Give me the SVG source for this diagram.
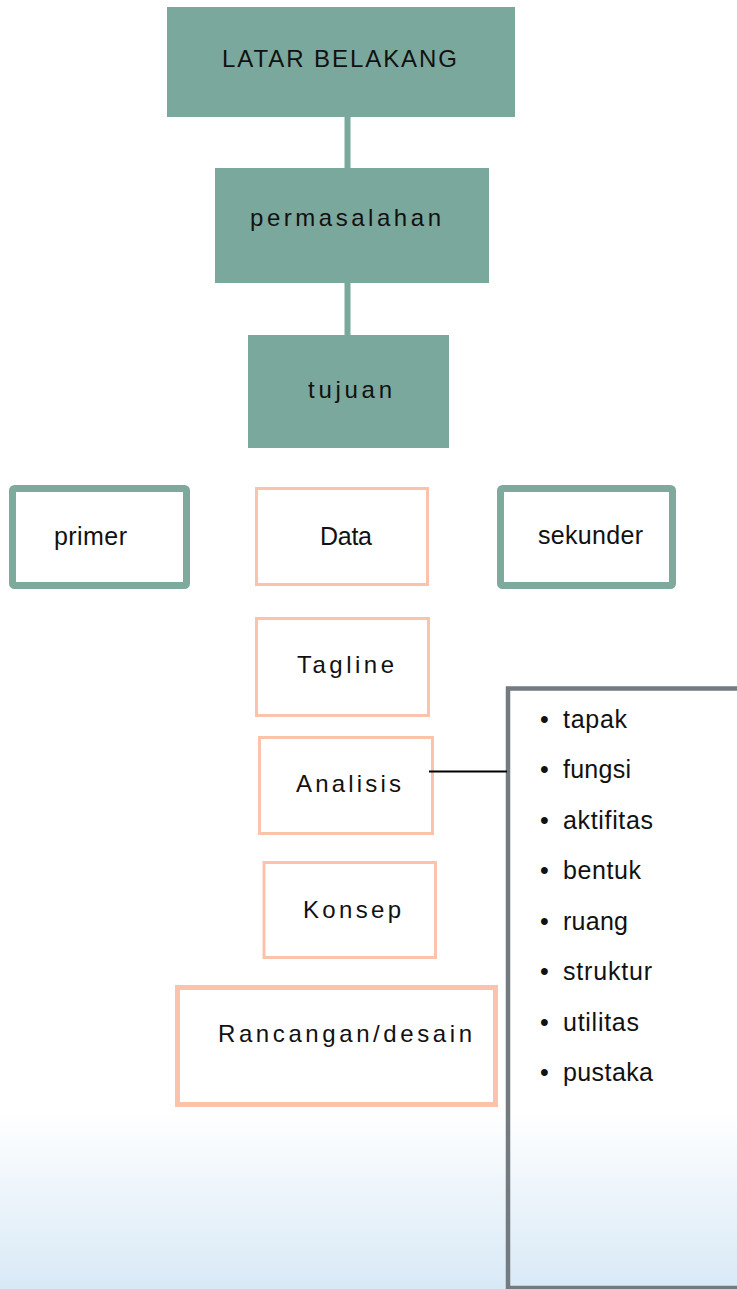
<svg xmlns="http://www.w3.org/2000/svg" width="737" height="1289" viewBox="0 0 737 1289">
<defs>
<linearGradient id="bg" x1="0" y1="0" x2="0" y2="1289" gradientUnits="userSpaceOnUse">
<stop offset="0" stop-color="#ffffff"/>
<stop offset="0.862" stop-color="#ffffff"/>
<stop offset="1" stop-color="#d8e9f6"/>
</linearGradient>
<style>
.solid{fill:#7ba89d;stroke:none}
.green{fill:#ffffff;stroke:#7ea99d;stroke-width:7}
.peach{fill:#ffffff;stroke:#fbc3aa;stroke-width:3}
.peach5{fill:#ffffff;stroke:#fbc3aa;stroke-width:5}
.list{fill:none;stroke:#737b80;stroke-width:4.5}
.sp{font-family:"Liberation Sans",Arial,sans-serif;font-size:24px;fill:#111111}
.pl{font-family:"Liberation Sans",Arial,sans-serif;font-size:25px;fill:#111111}
.conn{fill:#7ba89d}
</style>
</defs>
<rect x="0" y="0" width="737" height="1289" fill="url(#bg)"/>

<g id="latar-belakang">
<rect class="solid" x="167" y="7" width="348" height="110"/>
<text class="sp" x="222" y="67" textLength="235" lengthAdjust="spacing">LATAR BELAKANG</text>
</g>

<g id="permasalahan">
<rect class="solid" x="215" y="168" width="274" height="115"/>
<text class="sp" x="250" y="226" textLength="191" lengthAdjust="spacing">permasalahan</text>
</g>

<g id="tujuan">
<rect class="solid" x="248" y="335" width="201" height="113"/>
<text class="sp" x="308" y="398" textLength="84" lengthAdjust="spacing">tujuan</text>
</g>

<g id="primer">
<rect class="green" x="12.5" y="488.5" width="174" height="97" rx="2"/>
<text class="pl" x="54" y="545" textLength="73" lengthAdjust="spacing">primer</text>
</g>

<g id="data">
<rect class="peach" x="256.5" y="488.5" width="171" height="96"/>
<text class="pl" x="320" y="545" textLength="52" lengthAdjust="spacing">Data</text>
</g>

<g id="sekunder">
<rect class="green" x="500.5" y="488.5" width="172" height="97" rx="2"/>
<text class="pl" x="538" y="544" textLength="105" lengthAdjust="spacing">sekunder</text>
</g>

<g id="tagline">
<rect class="peach" x="256.5" y="618.5" width="172" height="97"/>
<text class="sp" x="297" y="673" textLength="97" lengthAdjust="spacing">Tagline</text>
</g>

<g id="analisis">
<rect class="peach" x="259.5" y="737.5" width="173" height="96"/>
<text class="sp" x="296" y="792" textLength="105" lengthAdjust="spacing">Analisis</text>
</g>

<g id="konsep">
<rect class="peach" x="264" y="862.5" width="171.5" height="95"/>
<text class="sp" x="303" y="918" textLength="98" lengthAdjust="spacing">Konsep</text>
</g>

<g id="rancangan">
<rect class="peach5" x="177.5" y="987.5" width="318" height="117"/>
<text class="sp" x="218" y="1042" textLength="254" lengthAdjust="spacing">Rancangan/desain</text>
</g>

<g id="list">
<rect class="list" x="508" y="688.5" width="300" height="599.5"/>
<g class="pl">
<text x="540" y="728">•</text><text x="563" y="728" textLength="64" lengthAdjust="spacing">tapak</text>
<text x="540" y="778">•</text><text x="563" y="778" textLength="68" lengthAdjust="spacing">fungsi</text>
<text x="540" y="829">•</text><text x="563" y="829" textLength="90" lengthAdjust="spacing">aktifitas</text>
<text x="540" y="879">•</text><text x="563" y="879" textLength="78" lengthAdjust="spacing">bentuk</text>
<text x="540" y="930">•</text><text x="563" y="930" textLength="65" lengthAdjust="spacing">ruang</text>
<text x="540" y="980">•</text><text x="563" y="980" textLength="89" lengthAdjust="spacing">struktur</text>
<text x="540" y="1031">•</text><text x="563" y="1031" textLength="76" lengthAdjust="spacing">utilitas</text>
<text x="540" y="1081">•</text><text x="563" y="1081" textLength="90" lengthAdjust="spacing">pustaka</text>
</g>
</g>

<g id="connectors">
<rect class="conn" x="344.5" y="117" width="6" height="51"/>
<rect class="conn" x="344.5" y="283" width="6" height="52"/>
<line x1="429" y1="771.5" x2="507" y2="771.5" stroke="#000000" stroke-width="2"/>
</g>
</svg>
